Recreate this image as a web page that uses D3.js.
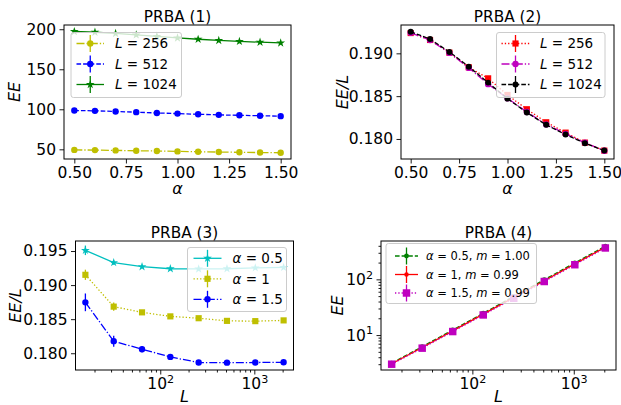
<!DOCTYPE html>
<html>
<head>
<meta charset="utf-8">
<script src="https://cdn.jsdelivr.net/npm/d3@7"></script>
<style>
  body { margin: 0; background: #fff; }
  svg { display: block; font-family: "DejaVu Sans", sans-serif; }
  .tick text { fill: #000; }
  .tick line { stroke: #000; }
</style>
</head>
<body>
<svg id="chart" width="621" height="405"></svg>
<script>
// ---- data ----
const alphas = [0.5, 0.6, 0.7, 0.8, 0.9, 1.0, 1.1, 1.2, 1.3, 1.4, 1.5];
const sizes = [16, 32, 64, 128, 256, 512, 1024, 2048];

// PRBA (1): EE against alpha
const ee256 = [49.25, 49.04, 48.66, 48.22, 47.89, 47.40, 46.97, 46.58, 46.27, 45.97, 45.73];
const ee512 = [98.51, 98.07, 97.31, 96.41, 95.44, 94.59, 93.77, 93.03, 92.47, 91.93, 91.45];
const ee1024 = [197.15, 196.27, 194.72, 192.96, 191.06, 189.14, 187.47, 186.01, 184.84, 183.81, 182.93];

// PRBA (2): EE/L against alpha
const ratio256 = [0.19237, 0.19156, 0.19008, 0.18837, 0.18708, 0.18514, 0.18347, 0.18195, 0.18074, 0.17957, 0.17864];
const ratio512 = [0.19240, 0.19155, 0.19005, 0.18830, 0.18640, 0.18475, 0.18315, 0.18170, 0.18060, 0.17955, 0.17862];
const ratio1024 = [0.19253, 0.19167, 0.19016, 0.18844, 0.18658, 0.18471, 0.18308, 0.18165, 0.18051, 0.17950, 0.17864];

// PRBA (3): EE/L against L
const ratioA05 = [0.1951, 0.1933, 0.1927, 0.1924, 0.19237, 0.19240, 0.19253, 0.1926];
const ratioA10 = [0.19151, 0.18684, 0.18600, 0.18541, 0.18514, 0.18475, 0.18471, 0.18482];
const ratioA15 = [0.18747, 0.18177, 0.18059, 0.17946, 0.17864, 0.17862, 0.17864, 0.17867];
const errA05 = [0.0007, 0.0003, 0.0001, 0.0001, 0.00005, 0.00005, 0.00005, 0.00005];
const errA10 = [0.00075, 0.0006, 0.0003, 0.0001, 0.00005, 0.00005, 0.00005, 0.00005];
const errA15 = [0.0013, 0.0008, 0.00045, 0.0002, 0.0001, 0.00005, 0.00005, 0.00005];

// PRBA (4): EE against L
const eeA05 = [3.12, 6.19, 12.33, 24.63, 49.25, 98.51, 197.15, 394.5];
const eeA10 = [3.06, 5.98, 11.90, 23.73, 47.40, 94.59, 189.15, 378.5];
const eeA15 = [3.00, 5.82, 11.56, 22.97, 45.74, 91.48, 183.07, 365.9];

// tick labels
const alphaTicks = [0.50, 0.75, 1.00, 1.25, 1.50];
const eeTicks = [50, 100, 150, 200];
const ratioTicks2 = [0.180, 0.185, 0.190];
const ratioTicks3 = [0.180, 0.185, 0.190, 0.195];
const decadeTicksX = [100, 1000];
const decadeTicksY = [10, 100];

// ---- styles ----
const C = {y: '#bfbf00', b: '#0000ff', g: '#008000', r: '#ff0000', m: '#bf00bf', k: '#000000', c: '#00bfbf'};
const DASH = {solid: null, dashed: '4.6,2', dashdot: '8,2,1.3,2', dotted: '1.3,2'};
const TICK_FONT = 15.5, LABEL_FONT = 16, TITLE_FONT = 15.3;

const svg = d3.select('#chart');

function minorLogTicks(domain) {
    const out = [];
    for (let d = Math.floor(Math.log10(domain[0])); d <= Math.ceil(Math.log10(domain[1])); d++) {
        for (let k = 2; k <= 9; k++) {
            const v = k * Math.pow(10, d);
            if (v >= domain[0] && v <= domain[1]) out.push(v);
        }
    }
    return out;
}

function symbolPath(kind, size) {
    const t = {circle: d3.symbolCircle, square: d3.symbolSquare, star: d3.symbolStar}[kind];
    return d3.symbol().type(t).size(size)();
}

function mathLabel(sel, parts) {
    // parts: [text, italic?]
    parts.forEach(([t, it]) => {
        sel.append('tspan').attr('font-style', it ? 'italic' : 'normal').text(t);
    });
}

function powerTen(textSel) {
    textSel.each(function (d) {
        const el = d3.select(this);
        const e = Math.round(Math.log10(d));
        el.text('10');
        el.append('tspan').attr('dy', '-0.55em').attr('font-size', '0.72em').text(e);
    });
}

function drawPanel(cfg) {
    const g = svg.append('g');
    const {left, right, top, bottom} = cfg.box;

    const x = (cfg.xLog ? d3.scaleLog() : d3.scaleLinear()).domain(cfg.xDomain).range([left, right]);
    const y = (cfg.yLog ? d3.scaleLog() : d3.scaleLinear()).domain(cfg.yDomain).range([bottom, top]);

    // axes
    const xAxis = d3.axisBottom(x).tickValues(cfg.xTicks).tickSize(4.5).tickPadding(3.5).tickSizeOuter(0);
    if (cfg.xFormat) xAxis.tickFormat(cfg.xFormat);
    const xg = g.append('g').attr('transform', `translate(0,${bottom})`).call(xAxis);
    const yAxis = d3.axisLeft(y).tickValues(cfg.yTicks).tickSize(4.5).tickPadding(3.5).tickSizeOuter(0);
    if (cfg.yFormat) yAxis.tickFormat(cfg.yFormat);
    const yg = g.append('g').attr('transform', `translate(${left},0)`).call(yAxis);

    [xg, yg].forEach(a => {
        a.select('.domain').remove();
        a.attr('font-size', TICK_FONT).attr('font-family', '"DejaVu Sans", sans-serif');
    });
    if (cfg.xLog) {
        powerTen(xg.selectAll('.tick text'));
        g.append('g').attr('transform', `translate(0,${bottom})`)
            .call(d3.axisBottom(x).tickValues(minorLogTicks(cfg.xDomain)).tickSize(2.5).tickFormat('').tickSizeOuter(0))
            .select('.domain').remove();
    }
    if (cfg.yLog) {
        powerTen(yg.selectAll('.tick text'));
        g.append('g').attr('transform', `translate(${left},0)`)
            .call(d3.axisLeft(y).tickValues(minorLogTicks(cfg.yDomain)).tickSize(2.5).tickFormat('').tickSizeOuter(0))
            .select('.domain').remove();
    }
    g.selectAll('.tick line').attr('stroke', '#000').attr('stroke-width', 0.9);

    // series
    const plot = g.append('g');
    cfg.series.forEach(s => {
        const pts = cfg.xs.map((xv, i) => ({x: xv, y: s.values[i], e: s.err ? s.err[i] : 0}));
        const line = d3.line().x(d => x(d.x)).y(d => y(d.y));
        plot.append('path')
            .attr('d', line(pts))
            .attr('fill', 'none')
            .attr('stroke', s.color)
            .attr('stroke-width', 1.3)
            .attr('stroke-dasharray', DASH[s.dash]);
        plot.selectAll(null).data(pts.filter(d => d.e > 0)).enter()
            .append('line')
            .attr('x1', d => x(d.x)).attr('x2', d => x(d.x))
            .attr('y1', d => y(d.y - d.e)).attr('y2', d => y(d.y + d.e))
            .attr('stroke', s.color).attr('stroke-width', 1.3);
        plot.selectAll(null).data(pts).enter()
            .append('path')
            .attr('d', symbolPath(s.marker, s.size))
            .attr('transform', d => `translate(${x(d.x)},${y(d.y)})`)
            .attr('fill', s.color);
    });

    // frame
    g.append('rect')
        .attr('x', left).attr('y', top)
        .attr('width', right - left).attr('height', bottom - top)
        .attr('fill', 'none').attr('stroke', '#000').attr('stroke-width', 1);

    // title and labels
    g.append('text')
        .attr('x', (left + right) / 2).attr('y', top - 3.5)
        .attr('text-anchor', 'middle').attr('font-size', TITLE_FONT)
        .text(cfg.title);
    const xl = g.append('text')
        .attr('x', (left + right) / 2).attr('y', cfg.xLabelY)
        .attr('text-anchor', 'middle').attr('font-size', LABEL_FONT);
    mathLabel(xl, cfg.xLabel);
    const yl = g.append('text')
        .attr('transform', `translate(${cfg.yLabelX},${(top + bottom) / 2}) rotate(-90)`)
        .attr('text-anchor', 'middle').attr('font-size', LABEL_FONT);
    mathLabel(yl, cfg.yLabel);

    // legend
    const lg = cfg.legend;
    const leg = g.append('g');
    leg.append('rect')
        .attr('x', lg.x).attr('y', lg.y).attr('width', lg.w).attr('height', lg.h)
        .attr('rx', 2.5)
        .attr('fill', '#fff').attr('fill-opacity', 0.8)
        .attr('stroke', '#cccccc').attr('stroke-width', 1);
    cfg.series.forEach((s, i) => {
        const cy = lg.y + lg.first + i * lg.step;
        const x0 = lg.x + lg.hx0, x1 = lg.x + lg.hx1, xm = (x0 + x1) / 2;
        leg.append('line')
            .attr('x1', x0).attr('x2', x1).attr('y1', cy).attr('y2', cy)
            .attr('stroke', s.color).attr('stroke-width', 1.3)
            .attr('stroke-dasharray', DASH[s.dash]);
        leg.append('line')
            .attr('x1', xm).attr('x2', xm).attr('y1', cy - 8.5).attr('y2', cy + 8.5)
            .attr('stroke', s.color).attr('stroke-width', 1.3);
        leg.append('path')
            .attr('d', symbolPath(s.marker, s.size))
            .attr('transform', `translate(${xm},${cy})`)
            .attr('fill', s.color);
        const t = leg.append('text')
            .attr('x', lg.x + lg.tx).attr('y', cy).attr('dy', '0.36em')
            .attr('font-size', lg.font);
        mathLabel(t, s.label);
    });
}

drawPanel({
    title: 'PRBA (1)',
    box: {left: 64, right: 291, top: 25, bottom: 159},
    xs: alphas, xDomain: [0.45, 1.55], yDomain: [37.9, 205.3],
    xTicks: alphaTicks, yTicks: eeTicks, xFormat: d3.format('.2f'),
    xLabel: [['α', true]], yLabel: [['EE', true]], xLabelY: 193.5, yLabelX: 20,
    series: [
        {values: ee256, color: C.y, dash: 'dashdot', marker: 'circle', size: 32, label: [['L', true], [' = 256']]},
        {values: ee512, color: C.b, dash: 'dashed', marker: 'circle', size: 32, label: [['L', true], [' = 512']]},
        {values: ee1024, color: C.g, dash: 'solid', marker: 'star', size: 24, label: [['L', true], [' = 1024']]}
    ],
    legend: {x: 71, y: 32.5, w: 110.5, h: 65, first: 11, step: 20.5, hx0: 5.5, hx1: 33, tx: 44, font: 13.5}
});

drawPanel({
    title: 'PRBA (2)',
    box: {left: 401, right: 614, top: 25, bottom: 159},
    xs: alphas, xDomain: [0.45, 1.55], yDomain: [0.17766, 0.19331],
    xTicks: alphaTicks, yTicks: ratioTicks2, xFormat: d3.format('.2f'), yFormat: d3.format('.3f'),
    xLabel: [['α', true]], yLabel: [['EE/L', true]], xLabelY: 193.5, yLabelX: 347.5,
    series: [
        {values: ratio256, color: C.r, dash: 'dotted', marker: 'square', size: 38, label: [['L', true], [' = 256']]},
        {values: ratio512, color: C.m, dash: 'dashdot', marker: 'circle', size: 32, label: [['L', true], [' = 512']]},
        {values: ratio1024, color: C.k, dash: 'dashed', marker: 'circle', size: 28, label: [['L', true], [' = 1024']]}
    ],
    legend: {x: 496.5, y: 32.5, w: 108.5, h: 65, first: 11, step: 20.5, hx0: 5, hx1: 33, tx: 43.5, font: 13.5}
});

drawPanel({
    title: 'PRBA (3)',
    box: {left: 75.5, right: 293.5, top: 241, bottom: 370},
    xs: sizes, xLog: true, yLog: false, xDomain: [12.56, 2609], yDomain: [0.17754, 0.19647],
    xTicks: decadeTicksX, yTicks: ratioTicks3, yFormat: d3.format('.3f'),
    xLabel: [['L', true]], yLabel: [['EE/L', true]], xLabelY: 402, yLabelX: 21,
    series: [
        {values: ratioA05, err: errA05, color: C.c, dash: 'solid', marker: 'star', size: 24, label: [['α', true], [' = 0.5']]},
        {values: ratioA10, err: errA10, color: C.y, dash: 'dotted', marker: 'square', size: 38, label: [['α', true], [' = 1']]},
        {values: ratioA15, err: errA15, color: C.b, dash: 'dashdot', marker: 'circle', size: 32, label: [['α', true], [' = 1.5']]}
    ],
    legend: {x: 187.5, y: 247.5, w: 99, h: 64, first: 10.8, step: 20.5, hx0: 6, hx1: 34, tx: 45, font: 13.5}
});

drawPanel({
    title: 'PRBA (4)',
    box: {left: 381, right: 616, top: 241, bottom: 370},
    xs: sizes, xLog: true, yLog: true, xDomain: [12.56, 2609], yDomain: [2.36, 488],
    xTicks: decadeTicksX, yTicks: decadeTicksY,
    xLabel: [['L', true]], yLabel: [['EE', true]], xLabelY: 402, yLabelX: 342.5,
    series: [
        {values: eeA05, color: C.g, dash: 'dashed', marker: 'circle', size: 18, label: [['α', true], [' = 0.5, '], ['m', true], [' = 1.00']]},
        {values: eeA10, color: C.r, dash: 'solid', marker: 'circle', size: 16, label: [['α', true], [' = 1, '], ['m', true], [' = 0.99']]},
        {values: eeA15, color: C.m, dash: 'dotted', marker: 'square', size: 56, label: [['α', true], [' = 1.5, '], ['m', true], [' = 0.99']]}
    ],
    legend: {x: 386, y: 243.5, w: 150.5, h: 60, first: 12.5, step: 18.5, hx0: 9, hx1: 32, tx: 40, font: 11.5}
});
</script>
</body>
</html>
